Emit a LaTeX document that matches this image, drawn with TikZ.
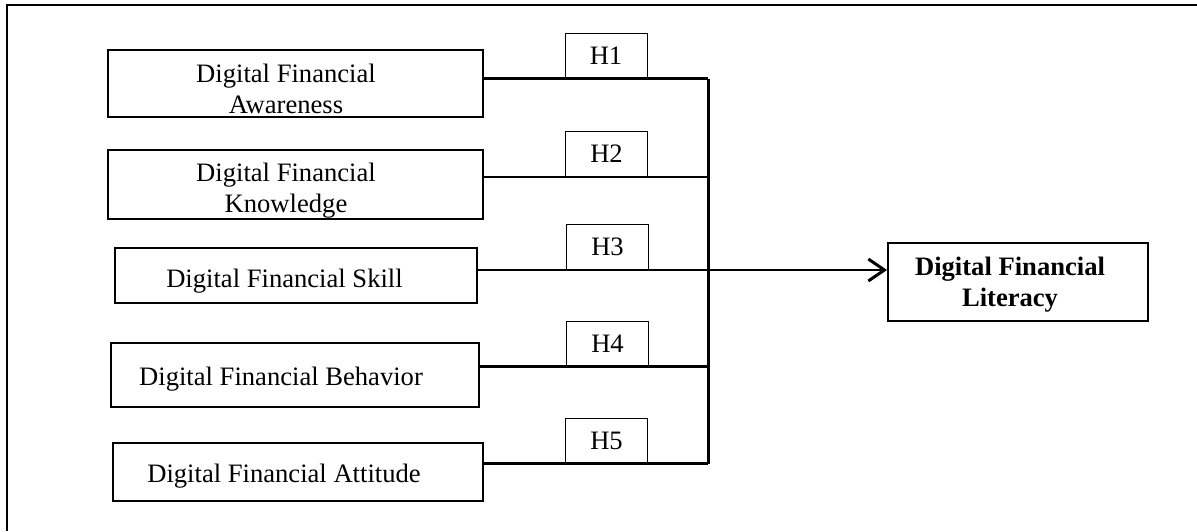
\documentclass[tikz,border=0pt]{standalone}
\usepackage{fontspec}
\setmainfont{Liberation Serif}
\usetikzlibrary{arrows.meta, positioning}

\begin{document}
\begin{tikzpicture}[x=0.5pt, y=-0.5pt,
    every node/.style={font=\fontsize{13.3}{15.5}\selectfont},
    every label/.style={align=center},
    varbox/.style={draw, line width=1pt, inner sep=0pt},
    hyp/.style={draw, line width=0.5pt, minimum width=41pt, minimum height=22.5pt, inner sep=0pt},
    link/.style={line width=1.3pt}]
    \useasboundingbox (0,0) rectangle (1197,531);

    % outer frame (runs off at the right and bottom)
    \draw[line width=1pt] (7,531) -- (7,5) -- (1197,5);

    % independent variables
    \node[varbox, minimum width=187.5pt, minimum height=33.5pt,
        label={[xshift=-4.75pt, yshift=-2.5pt]center:Digital Financial\\Awareness}]
        (aware) at (295.5,83.5) {};
    \node[varbox, minimum width=187.5pt, minimum height=34.5pt,
        label={[xshift=-4.75pt, yshift=-3pt]center:Digital Financial\\Knowledge}]
        (know) at (295.5,184.5) {};
    \node[varbox, minimum width=181pt, minimum height=27.5pt,
        label={[xshift=-5.75pt, yshift=-2.75pt]center:Digital Financial Skill}]
        (skill) at (296,275.5) {};
    \node[varbox, minimum width=184pt, minimum height=32pt,
        label={[xshift=-7pt, yshift=-2pt]center:Digital Financial Behavior}]
        (behav) at (295,375) {};
    \node[varbox, minimum width=185pt, minimum height=29pt,
        label={[xshift=-7pt, yshift=-2pt]center:Digital Financial Attitude}]
        (attit) at (298,472) {};

    % dependent variable
    \node[varbox, minimum width=130pt, minimum height=39pt,
        label={[font=\fontsize{13.3}{15.5}\selectfont\bfseries, xshift=-4pt, yshift=-1.5pt]center:Digital Financial\\Literacy}]
        (lit) at (1018,282) {};

    % hypotheses
    \node[hyp] (h1) at (606,55.5) {H1};
    \node[hyp] (h2) at (606.5,154) {H2};
    \node[hyp] (h3) at (607.5,247) {H3};
    \node[hyp] (h4) at (607.5,343.5) {H4};
    \node[hyp] (h5) at (606.5,440.5) {H5};

    \coordinate (bus) at (708,0);

    % paths into the bus
    \draw[link] (aware.east |- h1.south) -- (h1.south -| bus);
    \draw[link] (know.east |- h2.south) -- (h2.south -| bus);
    \draw[link] (behav.east |- h4.south) -- (h4.south -| bus);
    \draw[link] (attit.east |- h5.south) -- (h5.south -| bus);
    \draw[line width=1.5pt] (h1.south -| bus) -- (h5.south -| bus);

    % H3 runs straight on to the outcome
    \draw[link, -{Straight Barb[length=8pt, width=11pt, line width=1.5pt]}]
        (skill.east |- h3.south) -- (h3.south -| lit.west);
\end{tikzpicture}
\end{document}
